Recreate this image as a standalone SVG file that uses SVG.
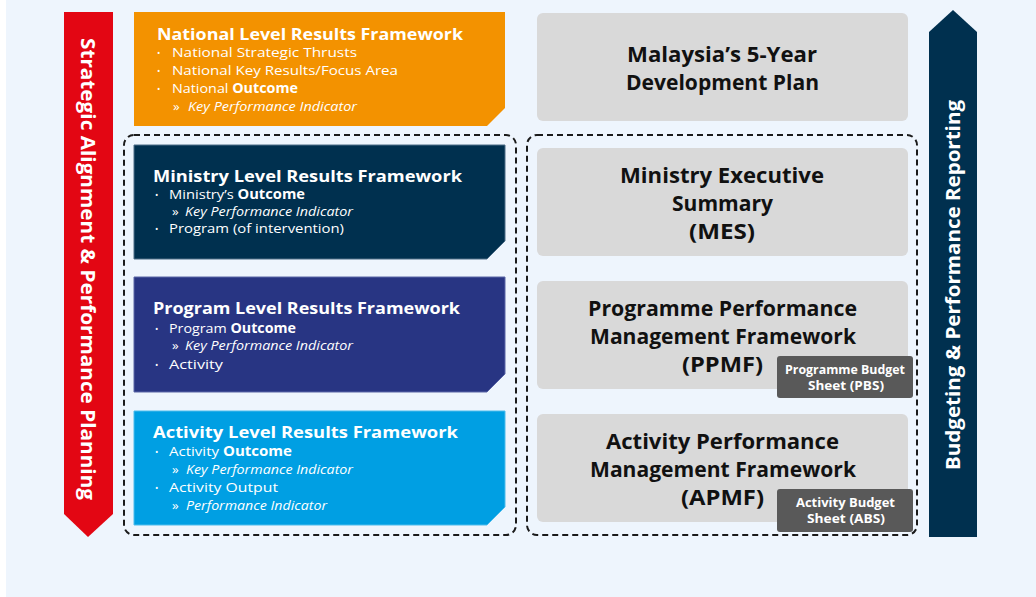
<svg xmlns="http://www.w3.org/2000/svg" width="1036" height="597" viewBox="0 0 1036 597">
<style>
.t{font-family:"Open Sans","Liberation Sans",sans-serif;fill:#fff}
.ttl{font-size:16px;font-weight:700}
.it{font-size:13.5px}
.sub{font-size:13.5px;font-style:italic}
.bul{font-size:9px}
.gt{font-family:"Open Sans","Liberation Sans",sans-serif;font-size:21px;font-weight:700;fill:#111;text-anchor:middle}
.lt{font-family:"Open Sans","Liberation Sans",sans-serif;font-size:12px;font-weight:700;fill:#fff;text-anchor:middle}
.ar{font-family:"Open Sans","Liberation Sans",sans-serif;font-size:20px;font-weight:700;fill:#fff;text-anchor:middle}
.gray{fill:#D9D9D9}
.lab{fill:#595959}
.dash{fill:none;stroke:#1a1a1a;stroke-width:2;stroke-dasharray:6 4}
</style>
<rect width="1036" height="597" fill="#ffffff"/>
<rect x="6" y="0" width="1030" height="597" fill="#EEF5FD"/>

<g id="arrow-left">
<polygon points="64,12 113,12 113,514 88,537 64,514" fill="#E30613"/>
<text class="ar" transform="translate(88,269) rotate(90)" dy="7" textLength="462" lengthAdjust="spacingAndGlyphs">Strategic Alignment &amp; Performance Planning</text>
</g>
<g id="arrow-right">
<polygon points="953,10 977,32 977,537 929,537 929,32" fill="#00304F"/>
<text class="ar" transform="translate(953,285) rotate(-90)" dy="7" textLength="370" lengthAdjust="spacingAndGlyphs">Budgeting &amp; Performance Reporting</text>
</g>

<g id="dashed-groups">
<rect class="dash" x="124" y="135" width="392" height="400" rx="10"/>
<rect class="dash" x="527" y="135" width="390" height="400" rx="10"/>
</g>

<g id="national">
<polygon points="134,12 505,12 505,108 487,126 134,126" fill="#F39200"/>
<text class="t ttl" x="157" y="40" textLength="306" lengthAdjust="spacingAndGlyphs">National Level Results Framework</text>
<text class="t bul" x="157" y="56">•</text><text class="t it" x="172" y="57" textLength="185" lengthAdjust="spacingAndGlyphs">National Strategic Thrusts</text>
<text class="t bul" x="157" y="74">•</text><text class="t it" x="172" y="75" textLength="226" lengthAdjust="spacingAndGlyphs">National Key Results/Focus Area</text>
<text class="t bul" x="157" y="92">•</text><text class="t it" x="172" y="93" textLength="126" lengthAdjust="spacingAndGlyphs">National <tspan font-weight="700">Outcome</tspan></text>
<text class="t it" x="173" y="111">»</text><text class="t sub" x="188" y="111" textLength="169" lengthAdjust="spacingAndGlyphs">Key Performance Indicator</text>
</g>

<g id="ministry">
<polygon points="134,145 505,145 505,241 487,259 134,259" fill="#00304F" stroke="#4d6d87" stroke-width="1"/>
<text class="t ttl" x="153" y="182" textLength="309" lengthAdjust="spacingAndGlyphs">Ministry Level Results Framework</text>
<text class="t bul" x="155" y="198">•</text><text class="t it" x="169" y="199" textLength="136" lengthAdjust="spacingAndGlyphs">Ministry’s <tspan font-weight="700">Outcome</tspan></text>
<text class="t it" x="172" y="216">»</text><text class="t sub" x="185" y="216" textLength="168" lengthAdjust="spacingAndGlyphs">Key Performance Indicator</text>
<text class="t bul" x="155" y="232">•</text><text class="t it" x="169" y="233" textLength="175" lengthAdjust="spacingAndGlyphs">Program (of intervention)</text>
</g>

<g id="program">
<polygon points="134,277 505,277 505,374 487,392 134,392" fill="#283583" stroke="#5a66a6" stroke-width="1"/>
<text class="t ttl" x="153" y="314" textLength="307" lengthAdjust="spacingAndGlyphs">Program Level Results Framework</text>
<text class="t bul" x="155" y="332">•</text><text class="t it" x="169" y="333" textLength="127" lengthAdjust="spacingAndGlyphs">Program <tspan font-weight="700">Outcome</tspan></text>
<text class="t it" x="172" y="350">»</text><text class="t sub" x="185" y="350" textLength="168" lengthAdjust="spacingAndGlyphs">Key Performance Indicator</text>
<text class="t bul" x="155" y="368">•</text><text class="t it" x="169" y="369" textLength="54" lengthAdjust="spacingAndGlyphs">Activity</text>
</g>

<g id="activity">
<polygon points="134,411 505,411 505,507 487,525 134,525" fill="#009FE3" stroke="#4dbcec" stroke-width="1"/>
<text class="t ttl" x="153" y="438" textLength="305" lengthAdjust="spacingAndGlyphs">Activity Level Results Framework</text>
<text class="t bul" x="155" y="455">•</text><text class="t it" x="169" y="456" textLength="123" lengthAdjust="spacingAndGlyphs">Activity <tspan font-weight="700">Outcome</tspan></text>
<text class="t it" x="172" y="474">»</text><text class="t sub" x="186" y="474" textLength="167" lengthAdjust="spacingAndGlyphs">Key Performance Indicator</text>
<text class="t bul" x="155" y="491">•</text><text class="t it" x="169" y="492" textLength="109" lengthAdjust="spacingAndGlyphs">Activity Output</text>
<text class="t it" x="172" y="510">»</text><text class="t sub" x="186" y="510" textLength="141" lengthAdjust="spacingAndGlyphs">Performance Indicator</text>
</g>

<g id="plan">
<rect class="gray" x="537" y="13" width="371" height="108" rx="6"/>
<text class="gt" x="722" y="62" textLength="190" lengthAdjust="spacingAndGlyphs">Malaysia’s 5-Year</text>
<text class="gt" x="722.5" y="90" textLength="193" lengthAdjust="spacingAndGlyphs">Development Plan</text>
</g>

<g id="mes">
<rect class="gray" x="537" y="148" width="371" height="108" rx="6"/>
<text class="gt" x="722" y="183" textLength="204" lengthAdjust="spacingAndGlyphs">Ministry Executive</text>
<text class="gt" x="722.5" y="211" textLength="101" lengthAdjust="spacingAndGlyphs">Summary</text>
<text class="gt" x="722" y="239" textLength="66" lengthAdjust="spacingAndGlyphs">(MES)</text>
</g>

<g id="ppmf">
<rect class="gray" x="537" y="281" width="371" height="108" rx="6"/>
<text class="gt" x="722.5" y="316" textLength="269" lengthAdjust="spacingAndGlyphs">Programme Performance</text>
<text class="gt" x="723" y="344" textLength="266" lengthAdjust="spacingAndGlyphs">Management Framework</text>
<text class="gt" x="722.5" y="372" textLength="81" lengthAdjust="spacingAndGlyphs">(PPMF)</text>
</g>

<g id="apmf">
<rect class="gray" x="537" y="414" width="371" height="108" rx="6"/>
<text class="gt" x="722.5" y="449" textLength="233" lengthAdjust="spacingAndGlyphs">Activity Performance</text>
<text class="gt" x="723" y="477" textLength="266" lengthAdjust="spacingAndGlyphs">Management Framework</text>
<text class="gt" x="722.5" y="505" textLength="83" lengthAdjust="spacingAndGlyphs">(APMF)</text>
</g>

<g id="pbs">
<rect class="lab" x="777" y="356" width="136" height="42" rx="3"/>
<text class="lt" x="845" y="374" textLength="120" lengthAdjust="spacingAndGlyphs">Programme Budget</text>
<text class="lt" x="846" y="390" textLength="76" lengthAdjust="spacingAndGlyphs">Sheet (PBS)</text>
</g>

<g id="abs">
<rect class="lab" x="777" y="489" width="136" height="43" rx="3"/>
<text class="lt" x="845.5" y="507" textLength="99" lengthAdjust="spacingAndGlyphs">Activity Budget</text>
<text class="lt" x="846" y="523" textLength="78" lengthAdjust="spacingAndGlyphs">Sheet (ABS)</text>
</g>

<g id="connectors"></g>
</svg>
